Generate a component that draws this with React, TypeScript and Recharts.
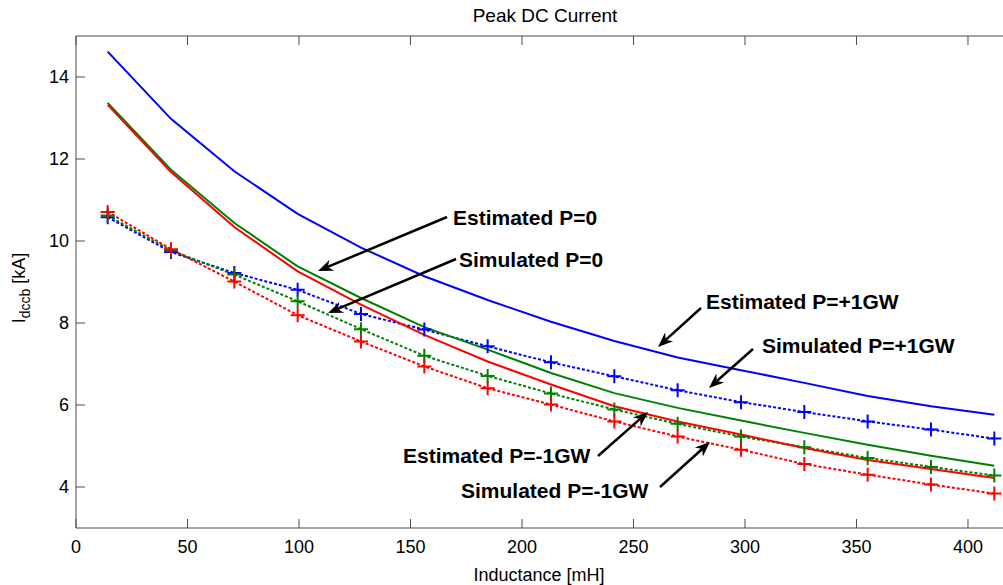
import { LineChart, Line, XAxis, YAxis } from 'recharts';

// inductance sample points [mH]
const inductance = [14.2, 42.6, 71, 99.4, 127.8, 156.2, 184.6, 213, 241.4, 269.8, 298.2, 326.6, 355, 383.4, 411.8];

// peak DC current [kA]
const estPlus1GW = [14.62, 12.98, 11.7, 10.66, 9.84, 9.14, 8.56, 8.03, 7.56, 7.16, 6.85, 6.54, 6.22, 5.97, 5.76];
const simPlus1GW = [10.58, 9.73, 9.22, 8.81, 8.22, 7.84, 7.43, 7.04, 6.7, 6.36, 6.07, 5.83, 5.6, 5.4, 5.18];
const estZero = [13.37, 11.74, 10.44, 9.38, 8.61, 7.9, 7.35, 6.78, 6.29, 5.93, 5.62, 5.32, 5.03, 4.76, 4.52];
const simZero = [10.62, 9.77, 9.18, 8.53, 7.85, 7.2, 6.71, 6.28, 5.89, 5.54, 5.23, 4.97, 4.71, 4.49, 4.28];
const estMinus1GW = [13.32, 11.68, 10.34, 9.26, 8.45, 7.71, 7.06, 6.5, 5.97, 5.6, 5.28, 4.95, 4.66, 4.44, 4.22];
const simMinus1GW = [10.71, 9.8, 9.01, 8.19, 7.55, 6.94, 6.41, 6.01, 5.6, 5.23, 4.91, 4.56, 4.3, 4.06, 3.84];

const xTicks = [0, 50, 100, 150, 200, 250, 300, 350, 400];
const yTicks = [4, 6, 8, 10, 12, 14];

const data = inductance.map((x, i) => ({
  x,
  estPlus: estPlus1GW[i],
  simPlus: simPlus1GW[i],
  estZero: estZero[i],
  simZero: simZero[i],
  estMinus: estMinus1GW[i],
  simMinus: simMinus1GW[i],
}));

const BLUE = '#0000ff';
const GREEN = '#008000';
const RED = '#ff0000';
const AXIS = '#4d4d4d';
const FONT = '"Liberation Sans", Arial, Helvetica, sans-serif';

function PlusDot(props: any) {
  const { cx, cy, stroke, index } = props;
  if (cx == null || cy == null) return <g key={index} />;
  return (
    <path
      key={index}
      d={`M${cx - 7},${cy}H${cx + 7}M${cx},${cy - 7}V${cy + 7}`}
      stroke={stroke}
      strokeWidth={2}
      fill="none"
    />
  );
}

// annotation: text + arrow (tail -> tip)
const notes = [
  { text: 'Estimated P=0', tx: 453, ty: 225, x1: 447, y1: 217, x2: 318, y2: 271 },
  { text: 'Simulated P=0', tx: 459, ty: 267, x1: 456, y1: 259, x2: 328, y2: 313 },
  { text: 'Estimated P=+1GW', tx: 706, ty: 309, x1: 701, y1: 308, x2: 658, y2: 347 },
  { text: 'Simulated P=+1GW', tx: 762, ty: 353, x1: 753, y1: 349, x2: 709, y2: 388 },
  { text: 'Estimated P=-1GW', tx: 403, ty: 463, x1: 598, y1: 456, x2: 648, y2: 412 },
  { text: 'Simulated P=-1GW', tx: 461, ty: 498, x1: 660, y1: 487, x2: 710, y2: 442 },
];

function Arrow({ x1, y1, x2, y2 }: { x1: number; y1: number; x2: number; y2: number }) {
  const dx = x2 - x1;
  const dy = y2 - y1;
  const len = Math.hypot(dx, dy);
  const ux = dx / len;
  const uy = dy / len;
  const px = -uy;
  const py = ux;
  const L = 15;
  const W = 6;
  const bx = x2 - ux * L;
  const by = y2 - uy * L;
  const nx = x2 - ux * L * 0.7;
  const ny = y2 - uy * L * 0.7;
  const head = `M${x2},${y2}L${bx + px * W},${by + py * W}L${nx},${ny}L${bx - px * W},${by - py * W}Z`;
  return (
    <g>
      <line x1={x1} y1={y1} x2={nx} y2={ny} stroke="#000" strokeWidth={2.5} />
      <path d={head} fill="#000" />
    </g>
  );
}

export default function App() {
  return (
    <div style={{ position: 'absolute', left: 0, top: 0, width: 1003, height: 585, background: '#fff', fontFamily: FONT }}>
      <LineChart width={1003} height={585} data={data} margin={{ top: 0, right: 0, bottom: 0, left: 0 }}>
        <XAxis
          xAxisId="b"
          dataKey="x"
          type="number"
          domain={[0, 415.7]}
          allowDataOverflow
          ticks={xTicks}
          height={57}
          tickSize={-9}
          tickMargin={21}
          stroke={AXIS}
          tick={{ fill: '#000', fontSize: 18, fontFamily: FONT }}
        />
        <XAxis
          xAxisId="t"
          dataKey="x"
          orientation="top"
          type="number"
          domain={[0, 415.7]}
          allowDataOverflow
          ticks={xTicks}
          height={36}
          tickSize={-9}
          tickFormatter={() => ''}
          stroke={AXIS}
        />
        <YAxis
          type="number"
          domain={[3, 15]}
          allowDataOverflow
          ticks={yTicks}
          width={76}
          tickSize={-9}
          tickMargin={16}
          stroke={AXIS}
          tick={{ fill: '#000', fontSize: 18, fontFamily: FONT }}
        />
        <Line xAxisId="b" dataKey="estPlus" type="linear" stroke={BLUE} strokeWidth={2} dot={false} isAnimationActive={false} />
        <Line xAxisId="b" dataKey="simPlus" type="linear" stroke={BLUE} strokeWidth={2} strokeDasharray="3 2" dot={PlusDot} isAnimationActive={false} />
        <Line xAxisId="b" dataKey="estZero" type="linear" stroke={GREEN} strokeWidth={2} dot={false} isAnimationActive={false} />
        <Line xAxisId="b" dataKey="simZero" type="linear" stroke={GREEN} strokeWidth={2} strokeDasharray="3 2" dot={PlusDot} isAnimationActive={false} />
        <Line xAxisId="b" dataKey="estMinus" type="linear" stroke={RED} strokeWidth={2} dot={false} isAnimationActive={false} />
        <Line xAxisId="b" dataKey="simMinus" type="linear" stroke={RED} strokeWidth={2} strokeDasharray="3 2" dot={PlusDot} isAnimationActive={false} />
      </LineChart>
      <svg width={1003} height={585} style={{ position: 'absolute', left: 0, top: 0, pointerEvents: 'none' }}>
        <text x={545} y={22} textAnchor="middle" fontSize={19} fontFamily={FONT} fill="#000">
          Peak DC Current
        </text>
        <text x={539} y={581} textAnchor="middle" fontSize={18} fontFamily={FONT} fill="#000">
          Inductance [mH]
        </text>
        <text transform="translate(25,288) rotate(-90)" textAnchor="middle" fontSize={18} fontFamily={FONT} fill="#000">
          I
          <tspan fontSize={14} dy={5}>dccb</tspan>
          <tspan dy={-5}> [kA]</tspan>
        </text>
        {notes.map((n) => (
          <g key={n.text}>
            <Arrow x1={n.x1} y1={n.y1} x2={n.x2} y2={n.y2} />
            <text x={n.tx} y={n.ty} fontSize={21} fontWeight="bold" fontFamily={FONT} fill="#000">
              {n.text}
            </text>
          </g>
        ))}
      </svg>
    </div>
  );
}
